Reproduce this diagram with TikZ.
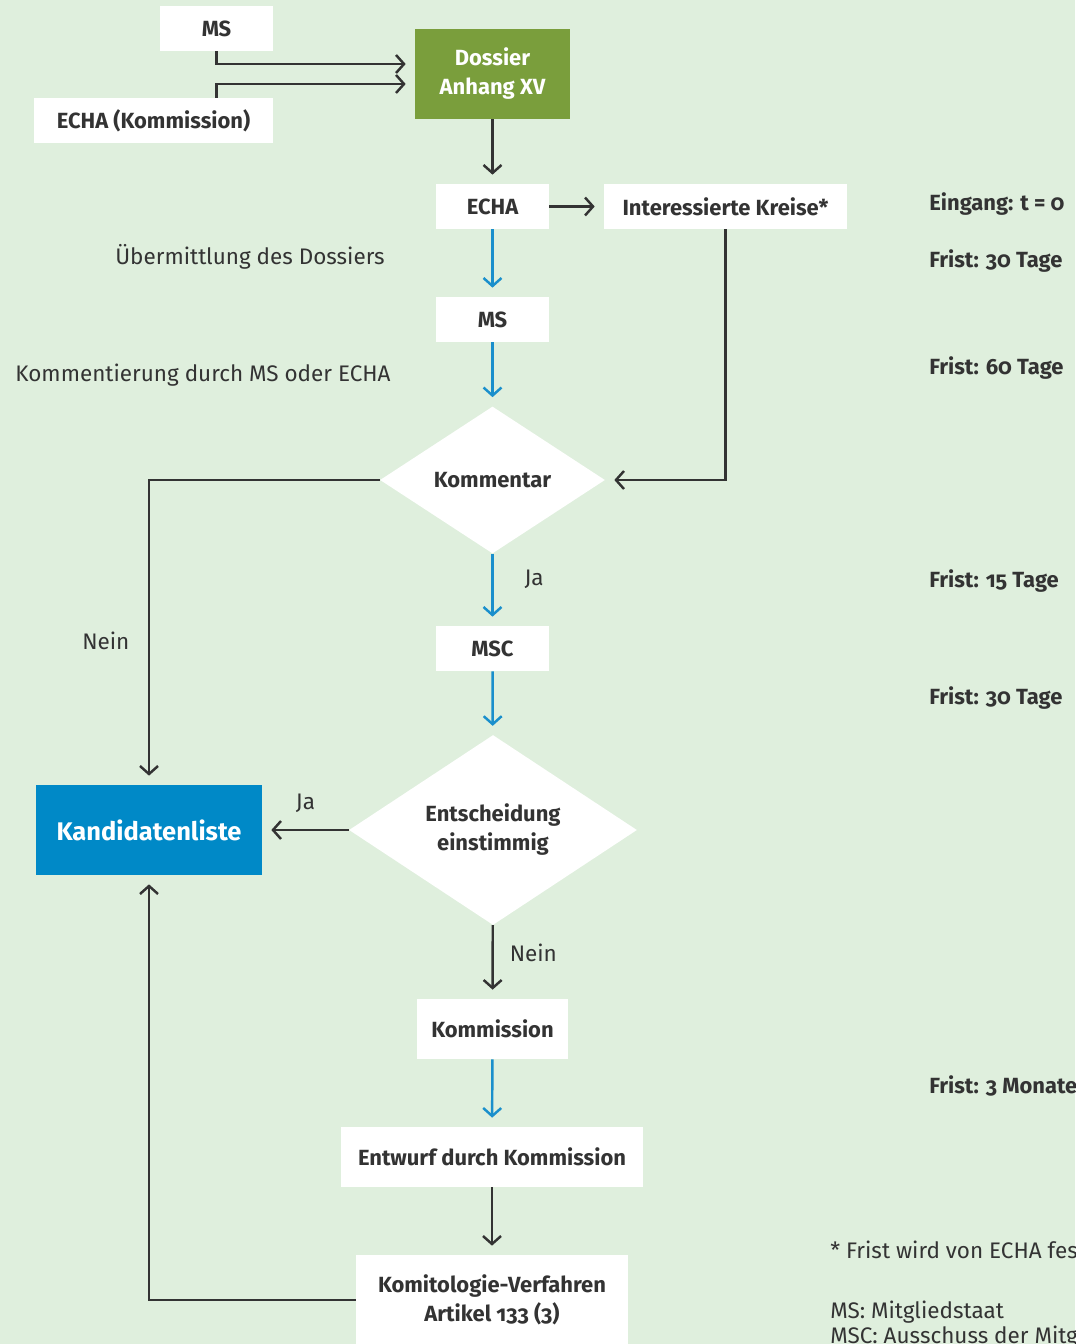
\documentclass[tikz,border=0pt]{standalone}
\usepackage{fontspec}
\setmainfont{Fira Sans}[Numbers=OldStyle]
\usepackage{tikz}
\usetikzlibrary{shapes.geometric,arrows.meta}
\definecolor{bggreen}{HTML}{DFEFDD}
\definecolor{dossiergreen}{HTML}{7A9E3C}
\definecolor{kandblue}{HTML}{0089C7}
\definecolor{darkline}{HTML}{333333}
\definecolor{blueline}{HTML}{1A8FCC}

\begin{document}
\begin{tikzpicture}[x=0.02cm,y=-0.02cm,
		box/.style={fill=white,text=darkline,font=\bfseries\fontsize{12.5}{16.5}\selectfont,
			minimum height=0.9cm,inner sep=0pt,align=center},
		dia/.style={diamond,fill=white,text=darkline,font=\bfseries\fontsize{12.5}{16.5}\selectfont,
			inner sep=0pt,align=center},
		darrow/.style={draw=darkline,line width=1.4pt,
			-{Straight Barb[length=1.6mm,width=3.6mm]},shorten >=0.18cm},
		barrow/.style={darrow,draw=blueline},
		note/.style={text=darkline,font=\fontsize{12.8}{15}\selectfont},
		frist/.style={anchor=west,inner sep=0pt,text=darkline,font=\bfseries\fontsize{12.5}{15}\selectfont}
		]
		\useasboundingbox (0,0) rectangle (1075,1344);
		\clip (0,0) rectangle (1075,1344);
		\fill[bggreen] (0,0) rectangle (1075,1344);
		
		\node[box,minimum width=2.26cm](MSa) at (216.5,28.5){MS};
		\node[box,minimum width=4.78cm](EK) at (153.5,120.5){ECHA (Kommission)};
		\node[box,fill=dossiergreen,text=white,minimum width=3.1cm,minimum height=1.8cm](D) at (492.5,74){Dossier\\Anhang XV};
		\node[box,minimum width=2.26cm](E) at (492.5,206.5){ECHA};
		\node[box,minimum width=4.86cm](IK) at (725.5,206.5){Interessierte Kreise*};
		\node[box,minimum width=2.26cm](MSb) at (492.5,319.5){MS};
		\node[dia,minimum width=4.5cm,minimum height=2.94cm](K) at (492.5,480){Kommentar};
		\node[box,minimum width=2.26cm](MSC) at (492.5,648.5){MSC};
		\node[dia,minimum width=5.76cm,minimum height=3.8cm](EE) at (493,830){Entscheidung\\einstimmig};
		\node[box,fill=kandblue,text=white,font=\bfseries\fontsize{14.5}{17}\selectfont,
		minimum width=4.52cm,minimum height=1.8cm](KL) at (149,830){Kandidatenliste};
		\node[box,minimum width=3.02cm,minimum height=1.2cm](KO) at (492.5,1029){Kommission};
		\node[box,minimum width=6.04cm,minimum height=1.2cm](EN) at (492,1157){Entwurf durch Kommission};
		\node[box,minimum width=5.44cm,minimum height=1.8cm](KV) at (492,1300){Komitologie-Verfahren\\Artikel 133 (3)};
		
		\draw[darrow] (MSa.south) |- ([yshift=0.2cm]D.west);
		\draw[darrow] (EK.north -| MSa.south) |- ([yshift=-0.2cm]D.west);
		\draw[darrow] (D) -- (E);
		\draw[darrow] (E) -- (IK);
		\draw[barrow] (E) -- (MSb);
		\draw[barrow] (MSb) -- (K);
		\draw[darrow] (IK.south) |- (K.east);
		\draw[darrow] (K.west) -| (KL.north) node[note,pos=0.764,left=0.25cm]{Nein};
		\draw[barrow] (K) -- (MSC) node[note,pos=0.35,right=0.5cm]{Ja};
		\draw[barrow] (MSC) -- (EE);
		\draw[darrow] (EE) -- (KL) node[note,midway,above=0.2cm]{Ja};
		\draw[darrow] (EE) -- (KO) node[note,pos=0.37,right=0.2cm]{Nein};
		\draw[barrow] (KO) -- (EN);
		\draw[darrow] (EN) -- (KV);
		\draw[darrow] (KV.west) -| (KL.south);
		
		\node[note](UE) at (250,257){Übermittlung des Dossiers};
		\node[note](KM) at (203,375){Kommentierung durch MS oder ECHA};
		
		\node[frist](F0) at (929,204){Eingang: t = 0};
		\node[frist](F1) at (929,261){Frist: 30 Tage};
		\node[frist](F2) at (929,368){Frist: 60 Tage};
		\node[frist](F3) at (929,581){Frist: 15 Tage};
		\node[frist](F4) at (929,698){Frist: 30 Tage};
		\node[frist](F5) at (929,1086){Frist: 3 Monate};
		
		\node[note,anchor=west,inner sep=0pt](FN) at (830,1252){* Frist wird von ECHA festgelegt};
		\node[note,anchor=west,inner sep=0pt](L1) at (830,1312){MS: Mitgliedstaat};
		\node[note,anchor=west,inner sep=0pt](L2) at (830,1337){MSC: Ausschuss der Mitgliedstaaten};
	\end{tikzpicture}
\end{document}
